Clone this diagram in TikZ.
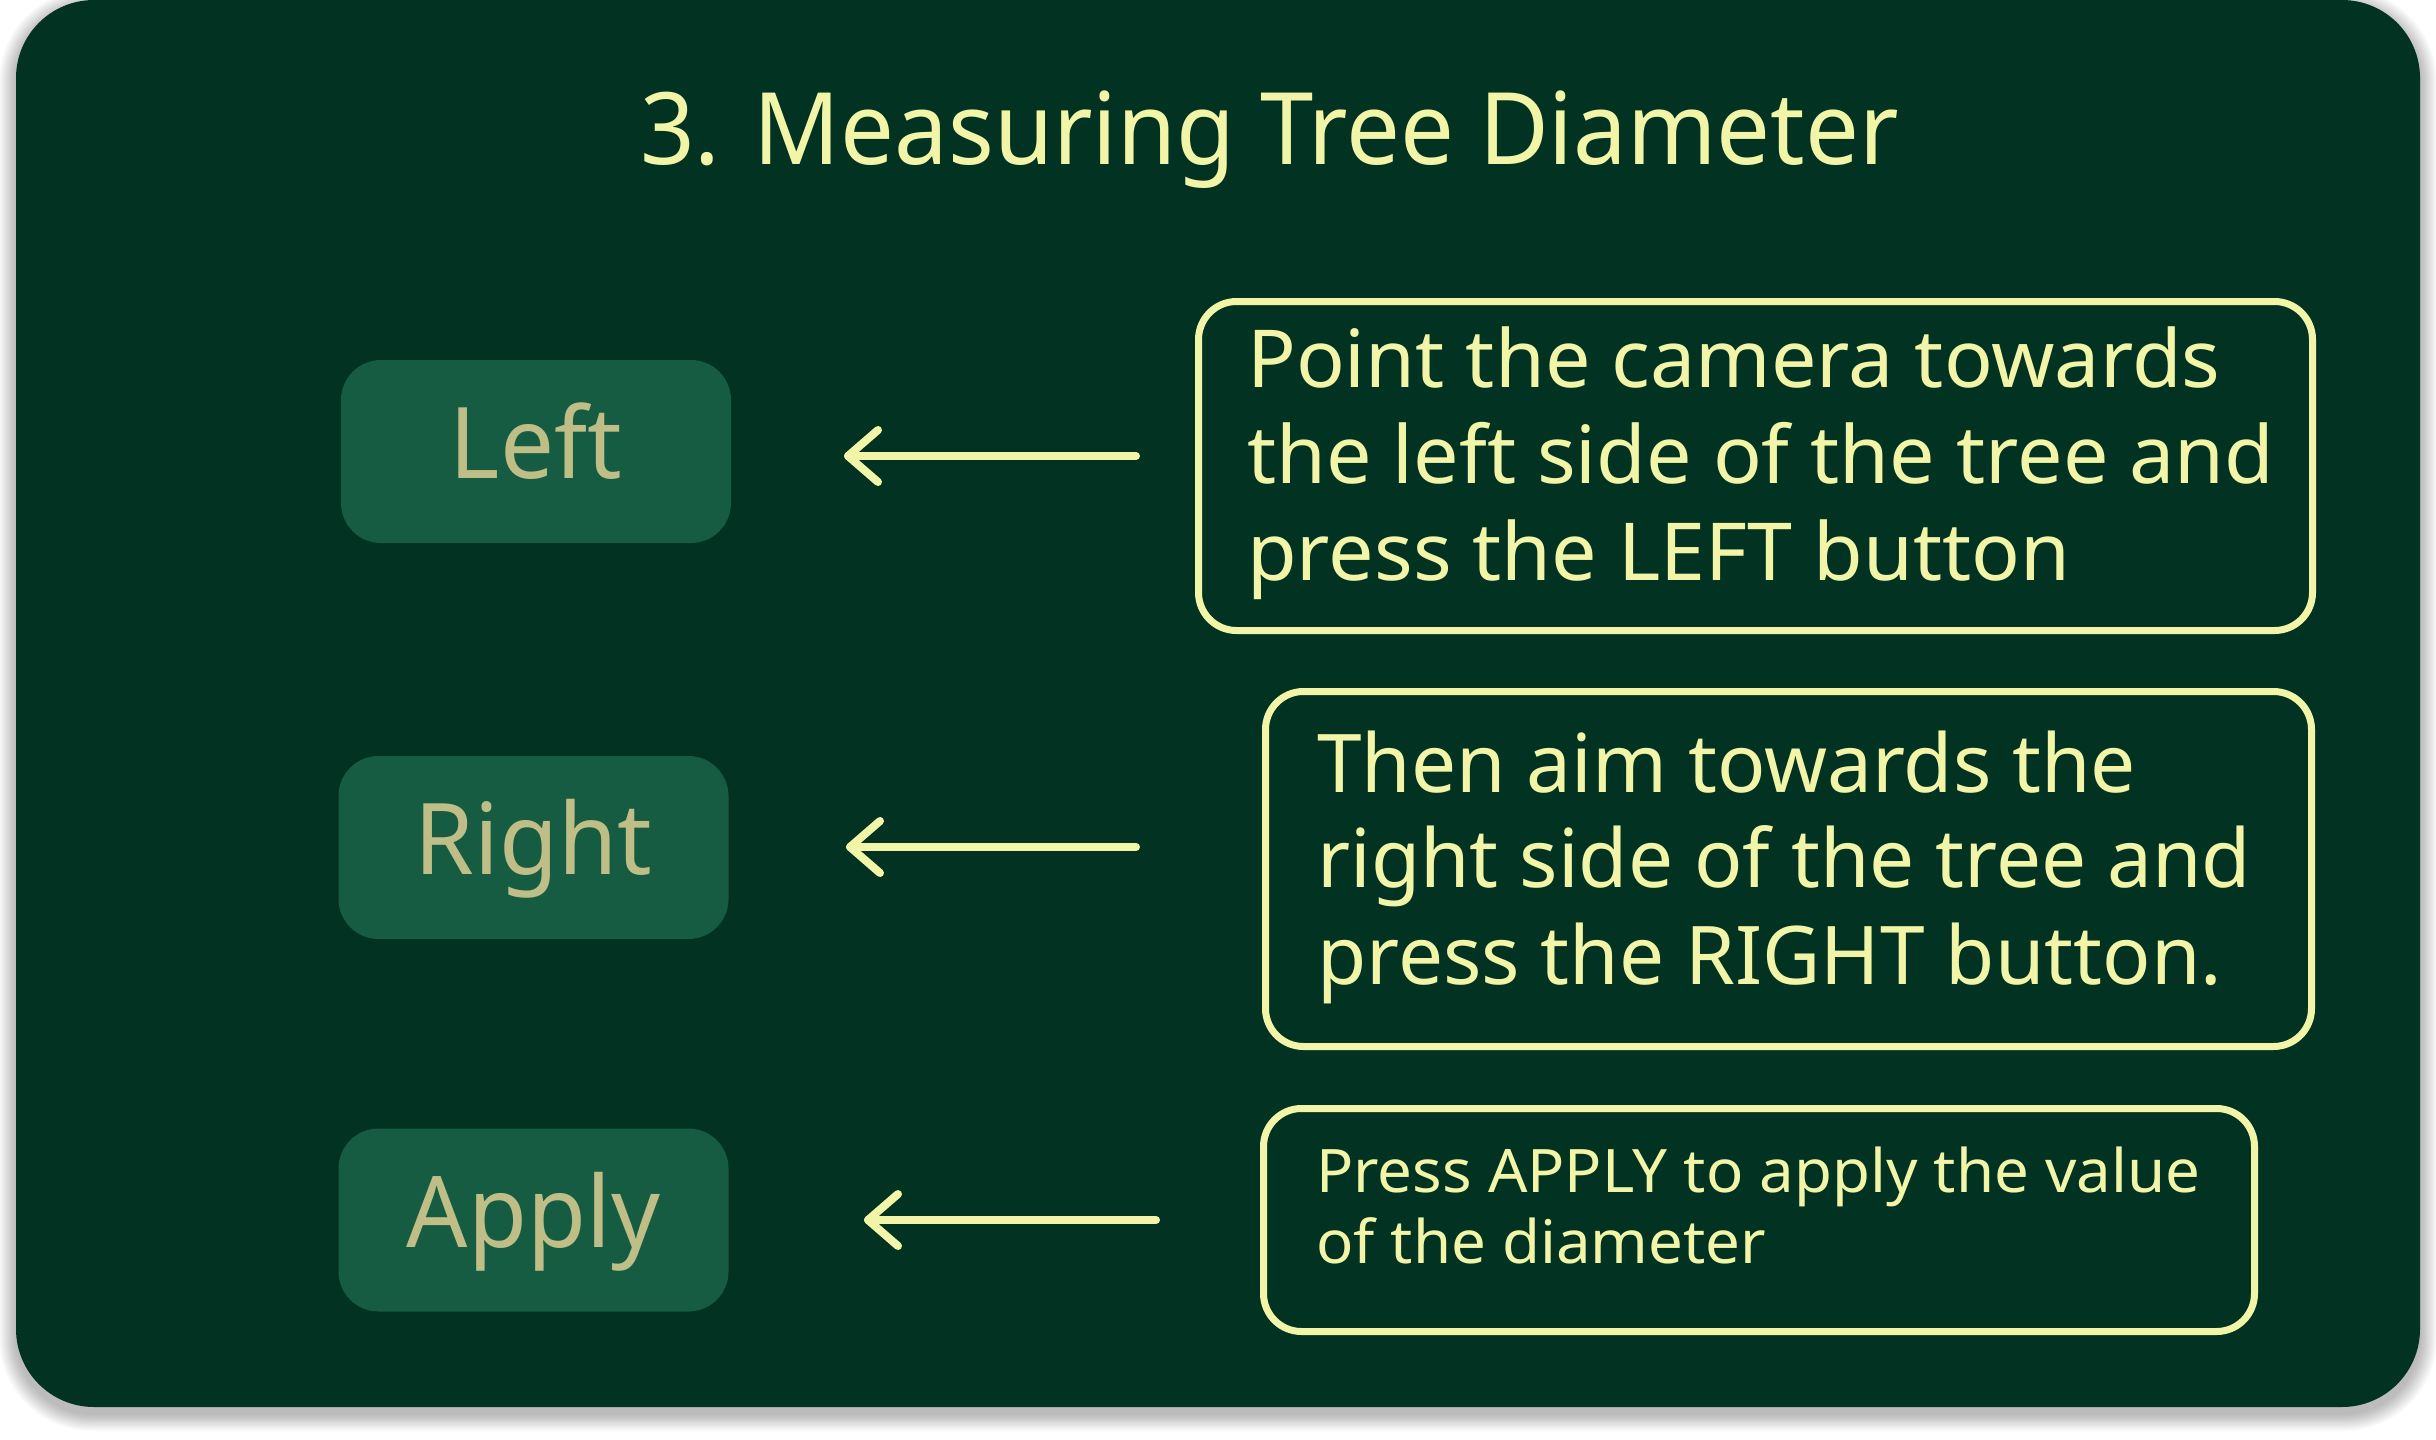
\documentclass[tikz,border=0pt]{standalone}
\usepackage{fontspec}
\setmainfont{Noto Sans}
\usetikzlibrary{calc}
\definecolor{bg}{HTML}{023221}
\definecolor{btnfill}{HTML}{165C43}
\definecolor{btntext}{HTML}{BEBE86}
\definecolor{pale}{HTML}{F2F4A8}
\tikzset{
  btn/.style={fill=btnfill, rounded corners=40pt, inner sep=0pt, minimum width=390pt, minimum height=183pt,
    text=btntext, font=\fontsize{99}{110}\selectfont\addfontfeature{FakeStretch=0.97}, text height=71pt, text depth=17pt},
  infobox/.style={draw=pale, line width=7pt, rounded corners=38pt, inner sep=0pt},
  line/.style={anchor=base west, inner sep=0pt, text=pale},
  arr/.style={draw=pale, line width=8pt, line cap=round, line join=round},
}
\begin{document}
\begin{tikzpicture}[x=1pt,y=-1pt]
\useasboundingbox (0,0) rectangle (2436,1440);
\fill[white] (0,0) rectangle (2436,1440);
% shadow
\foreach \s in {1,...,14}{
  \fill[black, opacity=0.018, rounded corners=78pt+\s pt]
    (16-\s*1.2, 6-\s*1.2) rectangle (2420+\s*1.2, 1414+\s*1.2);
}
\fill[bg, rounded corners=78pt] (16,0) rectangle (2420,1407);

\node[line, font=\fontsize{100}{110}\selectfont\addfontfeature{FakeStretch=0.957}] (title) at (640,164) {3. Measuring Tree Diameter};

% buttons
\node[btn] (bleft) at (536,451.5) {Left};
\node[btn] (bright) at (533.5,847.5) {Right};
\node[btn] (bapply) at (533.5,1220) {Apply};

% info boxes
\node[infobox, minimum width=1114pt, minimum height=329pt] (box1) at (1755.5,466) {};
\node[infobox, minimum width=1046pt, minimum height=355pt] (box2) at (1788.5,869) {};
\node[infobox, minimum width=991pt, minimum height=223pt] (box3) at (1759,1220) {};

\begin{scope}[every node/.append style={font=\fontsize{80}{96}\selectfont\addfontfeature{FakeStretch=1.01}}]
\node[line] (t1a) at (1247,387) {Point the camera towards};
\node[line] (t1b) at (1247,483) {the left side of the tree and};
\node[line] (t1c) at (1247,580) {press the LEFT button};
\end{scope}
\begin{scope}[every node/.append style={font=\fontsize{81}{96}\selectfont\addfontfeature{FakeStretch=0.99}}]
\node[line] (t2a) at (1317,792) {Then aim towards the};
\node[line] (t2b) at (1317,887) {right side of the tree and};
\node[line] (t2c) at (1317,984) {press the RIGHT button.};
\end{scope}
\begin{scope}[every node/.append style={font=\fontsize{60}{71}\selectfont\addfontfeature{FakeStretch=1.03}}]
\node[line] (t3a) at (1316,1192) {Press APPLY to apply the value};
\node[line] (t3b) at (1316,1263) {of the diameter};
\end{scope}

% arrows
\coordinate (a1s) at (1136,456); \coordinate (a1t) at (848,456);
\coordinate (a2s) at (1136,847); \coordinate (a2t) at (850,847);
\coordinate (a3s) at (1156,1220); \coordinate (a3t) at (868,1220);
\foreach \n in {1,2,3}{
  \draw[arr] (a\n s) -- (a\n t);
  \draw[arr] ($(a\n t)+(30,-26)$) -- (a\n t) -- ($(a\n t)+(30,26)$);
}
\end{tikzpicture}
\end{document}
